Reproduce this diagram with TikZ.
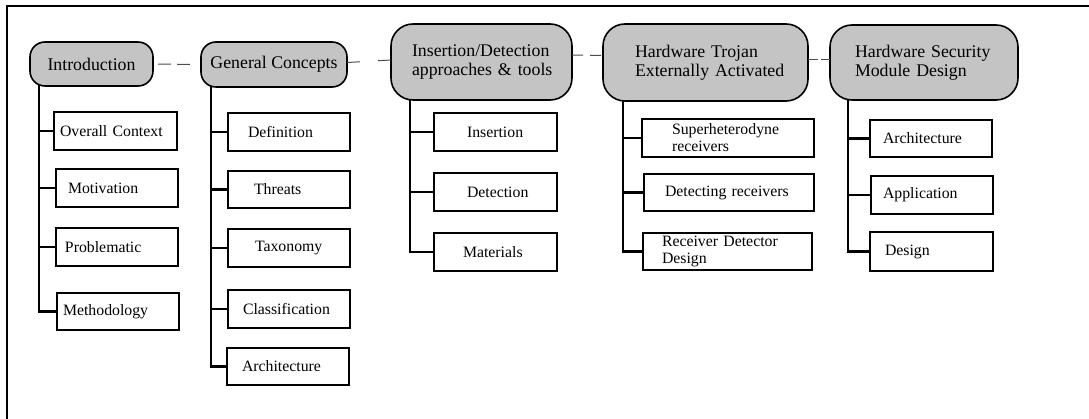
\documentclass[tikz,border=0pt]{standalone}
\usepackage{fontspec}
\setmainfont{Liberation Serif}
% indent a line of a box label by a fixed amount
\newcommand\ind[1]{\hspace*{#1}}
\begin{document}
\begin{tikzpicture}[x=1pt,y=-1pt,
  head/.style={draw=black,line width=1.6pt,fill=black!23,rounded corners=15pt,
    inner sep=0pt,outer sep=0pt,font=\fontsize{17.8}{19.5}\selectfont,align=center},
  bighead/.style={head,rounded corners=22pt,align=left},
  leaf/.style={draw=black,line width=1.3pt,fill=white,inner sep=0pt,outer sep=0pt,
    font=\fontsize{15.8}{17}\selectfont,align=left},
  trunk/.style={line width=2.2pt,line cap=rect},
  link/.style={draw=black!70,line width=1pt},
  frame/.style={line width=1.5pt}
]
\useasboundingbox (0,0) rectangle (1089,419);
\draw[frame] (1089,6) -- (7,6) -- (7,419);

% chapter headers
\node[head,minimum width=123pt,minimum height=44pt] (intro) at (91.5,64) {Introduction};
\node[head,minimum width=146pt,minimum height=45pt] (gc) at (274,64.5) {General Concepts};
\node[bighead,text width=181pt,minimum height=76pt] (ins) at (481.5,62)
  {\ind{21pt}Insertion/Detection\\\ind{21pt}approaches \& tools};
\node[bighead,text width=205pt,minimum height=77pt] (ht) at (705.5,62.5)
  {\ind{32pt}Hardware Trojan\\\ind{32pt}Externally Activated};
\node[bighead,text width=188pt,minimum height=75pt] (hsm) at (924,62.5)
  {\ind{25pt}Hardware Security\\\ind{25pt}Module Design};

% dashed links between chapters
\draw[link,shorten <=5pt,shorten >=11pt,dash pattern=on 13pt off 6pt] (intro.east) -- (gc.west);
\draw[link,dash pattern=on 13pt off 18pt] ([yshift=2pt]gc.east) -- ([yshift=2pt]ins.west);
\draw[link,dash pattern=on 11pt off 7pt] ([yshift=7pt]ins.east) -- ([yshift=7pt]ht.west);
\draw[link,dash pattern=on 10pt off 3pt] ([yshift=2.5pt]ht.east) -- ([yshift=2.5pt]hsm.west);

% section boxes: Introduction
\node[leaf,text width=123pt,minimum height=38pt] (ov) at (115.5,131) {\ind{6pt}Overall Context};
\node[leaf,text width=122pt,minimum height=38pt] (mot) at (117,188) {\ind{12pt}Motivation};
\node[leaf,text width=122pt,minimum height=38pt] (prob) at (117,247) {\ind{9pt}Problematic};
\node[leaf,text width=122pt,minimum height=37pt] (meth) at (118,311.5) {\ind{6pt}Methodology};

% section boxes: General Concepts
\node[leaf,text width=122pt,minimum height=38pt] (defn) at (289,132) {\ind{20pt}Definition};
\node[leaf,text width=122pt,minimum height=37pt] (thr) at (289,189.5) {\ind{26pt}Threats};
\node[leaf,text width=122pt,minimum height=38pt] (tax) at (289,248) {\ind{27pt}Taxonomy};
\node[leaf,text width=122pt,minimum height=38pt] (cls) at (289,309) {\ind{15pt}Classification};
\node[leaf,text width=122pt,minimum height=37pt] (arcA) at (288,366.5) {\ind{15pt}Architecture};

% section boxes: Insertion/Detection
\node[leaf,text width=123pt,minimum height=38pt] (insn) at (495.5,132) {\ind{33pt}Insertion};
\node[leaf,text width=123pt,minimum height=38pt] (det) at (495.5,192) {\ind{33pt}Detection};
\node[leaf,text width=123pt,minimum height=38pt] (mat) at (495.5,252) {\ind{29pt}Materials};

% section boxes: Hardware Trojan
\node[leaf,text width=172pt,minimum height=38pt] (sup) at (728,138) {\ind{30pt}Superheterodyne\\\ind{30pt}receivers};
\node[leaf,text width=170pt,minimum height=37pt] (detr) at (729,192.5) {\ind{21pt}Detecting receivers};
\node[leaf,text width=169pt,minimum height=37pt] (rdd) at (727.5,251.5) {\ind{19pt}Receiver Detector\\\ind{19pt}Design};

% section boxes: Hardware Security Module
\node[leaf,text width=122pt,minimum height=37pt] (arcB) at (931,138.5) {\ind{13pt}Architecture};
\node[leaf,text width=122pt,minimum height=38pt] (app) at (932,195) {\ind{12pt}Application};
\node[leaf,text width=123pt,minimum height=39pt] (des) at (931.5,251.5) {\ind{15pt}Design};

% trunks and stubs
\coordinate (t1) at ([xshift=9pt]intro.south west);
\coordinate (t2) at ([xshift=10pt]gc.south west);
\coordinate (t3) at ([xshift=19pt]ins.south west);
\coordinate (t4) at ([xshift=20pt]ht.south west);
\coordinate (t5) at ([xshift=18pt]hsm.south west);

\draw[trunk] (t1) |- (meth.west);
\foreach \c in {ov,mot,prob} \draw[trunk] (\c.west -| t1) -- (\c.west);
\draw[trunk] (t2) |- (arcA.west);
\foreach \c in {defn,thr,tax,cls} \draw[trunk] (\c.west -| t2) -- (\c.west);
\draw[trunk] (t3) |- (mat.west);
\foreach \c in {insn,det} \draw[trunk] (\c.west -| t3) -- (\c.west);
\draw[trunk] (t4) |- (rdd.west);
\foreach \c in {sup,detr} \draw[trunk] (\c.west -| t4) -- (\c.west);
\draw[trunk] (t5) |- (des.west);
\foreach \c in {arcB,app} \draw[trunk] (\c.west -| t5) -- (\c.west);
\end{tikzpicture}
\end{document}
